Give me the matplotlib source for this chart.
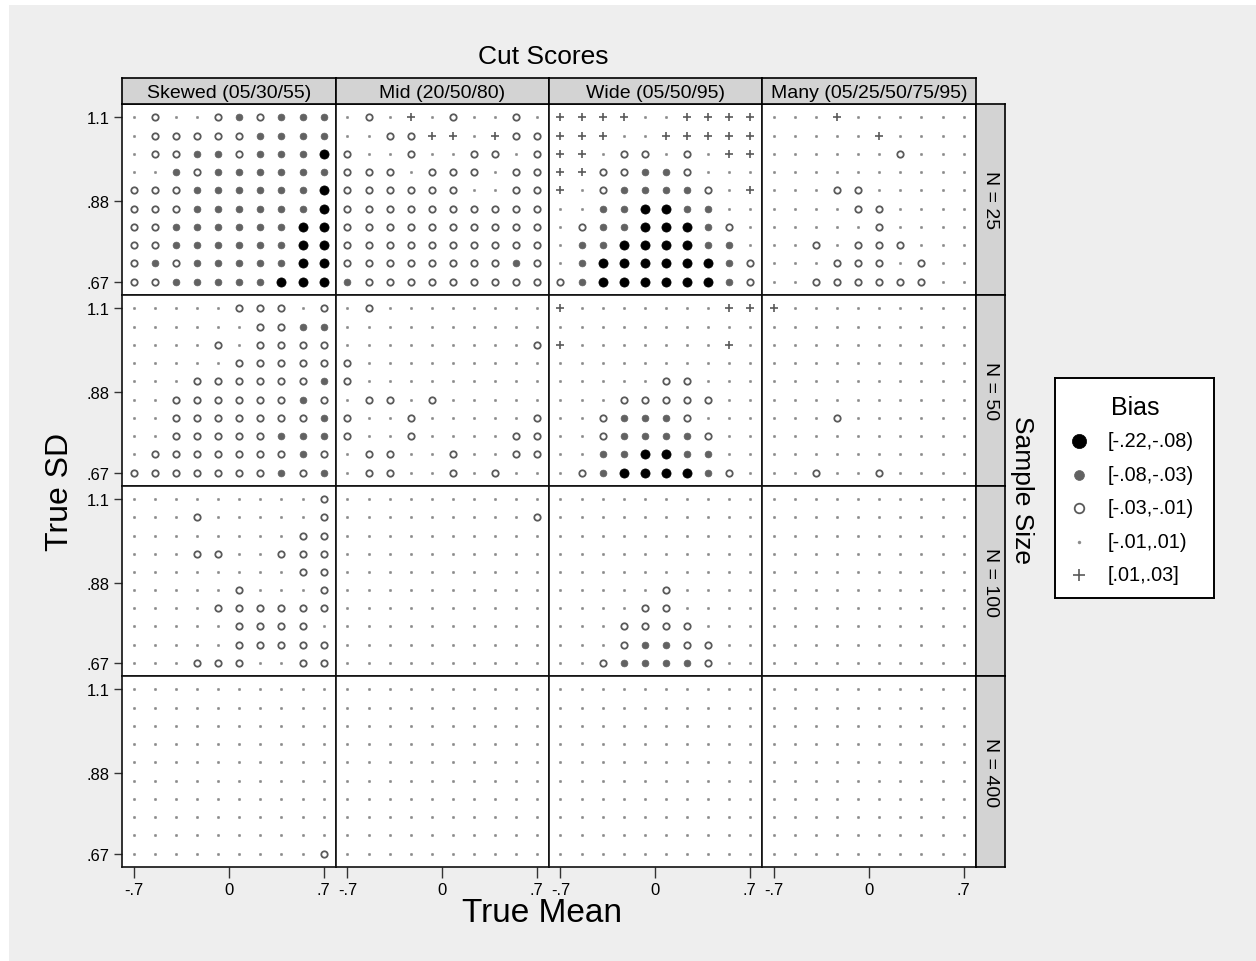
import matplotlib
matplotlib.use('Agg')
import matplotlib.pyplot as plt
from matplotlib.patches import Rectangle
import numpy as np

plt.rcParams['font.family'] = ['Liberation Sans', 'DejaVu Sans']

# ---------------- data ----------------
true_mean = np.linspace(-0.7, 0.7, 10)
true_sd = np.linspace(0.67, 1.1, 10)          # rows listed below go from top (1.1) to bottom (.67)
x_ticks = [-0.7, 0.0, 0.7]
x_ticklabels = ['-.7', '0', '.7']
y_ticks = [0.67, 0.88, 1.1]
y_ticklabels = ['.67', '.88', '1.1']
cut_scores = ['Skewed (05/30/55)', 'Mid (20/50/80)', 'Wide (05/50/95)', 'Many (05/25/50/75/95)']
sample_sizes = ['N = 25', 'N = 50', 'N = 100', 'N = 400']
bias_codes = ['B', 'G', 'O', '.', '+']
bias_labels = ['[-.22,-.08)', '[-.08,-.03)', '[-.03,-.01)', '[-.01,.01)', '[.01,.03]']

# bias category per cell: B=[-.22,-.08) G=[-.08,-.03) O=[-.03,-.01) .=[-.01,.01) +=[.01,.03]
skewed_n25 = ['.O..OGOGGG', '.OOOOOGGGG', '.OOGGOGGGB', '..GOGGGGGG', 'OOOGGGGGGB',
              'OOOGGGGGGB', 'OOGGGGGGBB', 'OOGGGGGGBB', 'OGOGGGGGBB', 'OOGGGGGBBB']
mid_n25 = ['.O.+.O..O.', '..OO++.+OO', 'O..O..OO.O', 'OOO.OOO.OO', 'OOOOOO..OO',
           'OOOOOOOOOO', 'OOOOOOOOOO', 'OOOOOOOOOO', 'OOOOOOOOGO', 'GOOOOOOOOO']
wide_n25 = ['++++..++++', '+++..+++++', '++.OO.O.++', '++OOGGO...', '+.OGGGGO.+',
            '..GGBBGG..', '.OGGBBBGO.', '.GGBBBBGG.', '.GBBBBBBGO', 'OGBBBBBBGO']
many_n25 = ['...+......', '.....+....', '......O...', '..........', '...OO.....',
            '....OO....', '.....O....', '..O.OOO...', '...OOO.O..', '..OOOOOO..']

skewed_n50 = ['.....OOO.O', '......OOGG', '....O.OOOO', '.....OOOOO', '...OOOOOOG',
              '..OOOOOOGO', '..OOOOOOOG', '..OOOOOGGG', '.OOOOOOOGO', 'OOOOOOOGOG']
mid_n50 = ['.O........', '..........', '.........O', 'O.........', 'O.........',
           '.OO.O.....', 'O..O.....O', 'O..O....OO', '.OO..O..OO', '.OO..O.O..']
wide_n50 = ['+.......++', '..........', '+.......+.', '..........', '.....OO...',
            '...OOOOO..', '..OGGGO...', '..OGGGGO..', '..GGBBGG..', '.OGBBBBGO.']
many_n50 = ['+.........', '..........', '..........', '..........', '..........',
            '..........', '...O......', '..........', '..........', '..O..O....']

skewed_n100 = ['.........O', '...O.....O', '........OO', '...OO..OOO', '........OO',
               '.....O...O', '....OOOOOO', '.....OOOO.', '.....OOOOO', '...OOO..OO']
mid_n100 = ['..........', '.........O', '..........', '..........', '..........',
            '..........', '..........', '..........', '..........', '..........']
wide_n100 = ['..........', '..........', '..........', '..........', '..........',
             '.....O....', '....OO....', '...OOOO...', '...OGGOO..', '..OGGGGO..']
many_n100 = ['..........'] * 10

skewed_n400 = ['..........'] * 9 + ['.........O']
mid_n400 = ['..........'] * 10
wide_n400 = ['..........'] * 10
many_n400 = ['..........'] * 10

panels = [[skewed_n25, mid_n25, wide_n25, many_n25],
          [skewed_n50, mid_n50, wide_n50, many_n50],
          [skewed_n100, mid_n100, wide_n100, many_n100],
          [skewed_n400, mid_n400, wide_n400, many_n400]]

# ---------------- styles ----------------
styles = {
    'B': dict(marker='o', ms=6.6, mfc='black', mec='black', mew=0.5),
    'G': dict(marker='o', ms=4.9, mfc='#626262', mec='#626262', mew=0.5),
    'O': dict(marker='o', ms=4.6, mfc='none', mec='#5a5a5a', mew=1.3),
    '.': dict(marker='o', ms=1.8, mfc='#8a8a8a', mec='#8a8a8a', mew=0.3),
    '+': dict(marker='+', ms=5.8, mfc='#5a5a5a', mec='#5a5a5a', mew=1.2),
}
legend_scale = {'B': 1.55, 'G': 1.45, 'O': 1.5, '.': 1.2, '+': 1.45}

W, H = 1256, 962
fig = plt.figure(figsize=(W / 100, H / 100), dpi=100)
fig.patch.set_facecolor('white')
fig.patches.append(Rectangle((9 / W, 0), 1 - 9 / W, 1 - 6 / H, transform=fig.transFigure,
                             facecolor='#eeeeee', edgecolor='none', zorder=-10))


def fbox(l, t, r, b):
    return [l / W, 1 - b / H, (r - l) / W, (b - t) / H]


col_edges = [122, 336, 549, 762, 976]
row_edges = [105, 296, 487, 677, 868]
frame_lw = 1.2
tick_fs = 12

for r in range(4):
    for c in range(4):
        ax = fig.add_axes(fbox(col_edges[c], row_edges[r], col_edges[c + 1], row_edges[r + 1]))
        ax.set_facecolor('white')
        grid = panels[r][c]
        for i, row in enumerate(grid):
            y = true_sd[::-1][i]
            for j, code in enumerate(row):
                ax.plot(true_mean[j], y, linestyle='none', **styles[code])
        ax.set_xlim(-0.785, 0.79)
        ax.set_ylim(0.635, 1.135)
        for s in ax.spines.values():
            s.set_linewidth(frame_lw)
            s.set_color('#111111')
        ax.set_xticks(x_ticks)
        ax.set_yticks(y_ticks)
        ax.tick_params(direction='out', length=6, width=1, color='#333333', labelsize=tick_fs, pad=3)
        if c == 0:
            ax.set_yticklabels(y_ticklabels)
        else:
            ax.tick_params(axis='y', left=False, labelleft=False)
        if r == 3:
            ax.set_xticklabels(x_ticklabels)
            ax.tick_params(axis='x', length=8)
        else:
            ax.tick_params(axis='x', bottom=False, labelbottom=False)

# column strips
for c in range(4):
    sax = fig.add_axes(fbox(col_edges[c], 79, col_edges[c + 1], 105))
    sax.set_facecolor('#d3d3d3')
    sax.set_xticks([]); sax.set_yticks([])
    for s in sax.spines.values():
        s.set_linewidth(frame_lw)
    sax.text(0.5, 0.45, cut_scores[c], ha='center', va='center', fontsize=14, transform=sax.transAxes)

# row strips
for r in range(4):
    sax = fig.add_axes(fbox(976, row_edges[r], 1005, row_edges[r + 1]))
    sax.set_facecolor('#d3d3d3')
    sax.set_xticks([]); sax.set_yticks([])
    for s in sax.spines.values():
        s.set_linewidth(frame_lw)
    sax.text(0.5, 0.5, sample_sizes[r], ha='center', va='center', rotation=-90, fontsize=14,
             transform=sax.transAxes)

# titles
fig.text(543 / W, 1 - 57 / H, 'Cut Scores', ha='center', va='center', fontsize=19)
fig.text(1022 / W, 1 - 490 / H, 'Sample Size', ha='center', va='center', rotation=-90, fontsize=19)
fig.text(542 / W, 1 - 914 / H, 'True Mean', ha='center', va='center', fontsize=24)
fig.text(60 / W, 1 - 492 / H, 'True SD', ha='center', va='center', rotation=90, fontsize=23)

# legend
lax = fig.add_axes(fbox(1055, 379, 1214, 599))
lax.set_facecolor('white')
lax.set_xlim(1055, 1214)
lax.set_ylim(599, 379)
lax.set_xticks([]); lax.set_yticks([])
for s in lax.spines.values():
    s.set_linewidth(1.4)
lax.text(1135, 408, 'Bias', ha='center', va='center', fontsize=18)
item_y = [442, 476, 509, 543, 576]
for k, (code, lab) in enumerate(zip(bias_codes, bias_labels)):
    st = dict(styles[code])
    st['ms'] = st['ms'] * legend_scale[code]
    lax.plot(1079, item_y[k], linestyle='none', **st)
    lax.text(1108, item_y[k], lab, ha='left', va='center', fontsize=14.3)

fig.savefig('out.png', dpi=100)
